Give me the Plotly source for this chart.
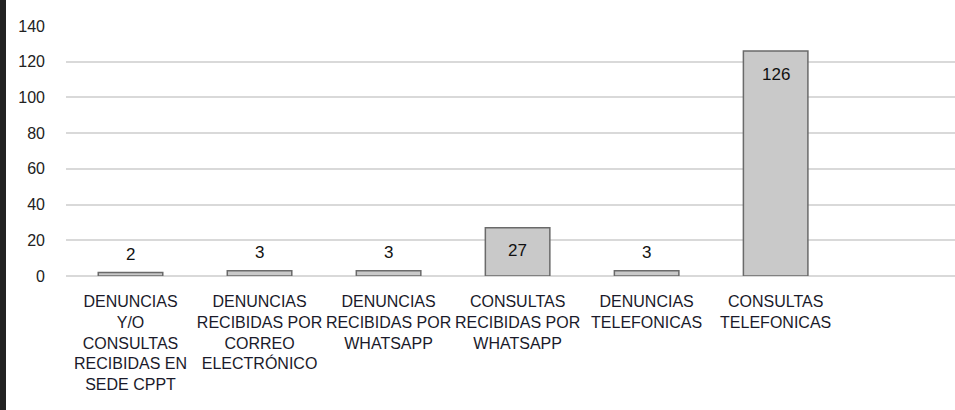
import plotly.graph_objects as go

categories = [
    "DENUNCIAS<br>Y/O<br>CONSULTAS<br>RECIBIDAS EN<br>SEDE CPPT",
    "DENUNCIAS<br>RECIBIDAS POR<br>CORREO<br>ELECTRÓNICO",
    "DENUNCIAS<br>RECIBIDAS POR<br>WHATSAPP",
    "CONSULTAS<br>RECIBIDAS POR<br>WHATSAPP",
    "DENUNCIAS<br>TELEFONICAS",
    "CONSULTAS<br>TELEFONICAS",
]
values = [2, 3, 3, 27, 3, 126]
y_ticks = [0, 20, 40, 60, 80, 100, 120, 140]

W, H = 955, 410
ML, MR, MT, MB = 66, 0, 26, 134
pw = W - ML - MR
ph = H - MT - MB

xs = list(range(len(categories)))

fig = go.Figure(go.Bar(
    x=xs,
    y=values,
    width=0.5,
    marker=dict(color="#c9c9c9", line=dict(color="#6a6a6a", width=1.5)),
    hoverinfo="x+y",
))

annotations = []
for x, v in zip(xs, values):
    inside = v >= 10
    annotations.append(dict(
        x=x, y=v, xref="x", yref="y",
        text=str(v), showarrow=False,
        yshift=-23 if inside else 18,
        font=dict(family="Liberation Sans", size=17, color="#111111"),
    ))

fig.update_layout(
    width=W, height=H,
    margin=dict(l=ML, r=MR, t=MT, b=MB),
    paper_bgcolor="white",
    plot_bgcolor="white",
    showlegend=False,
    font=dict(family="Liberation Sans", size=16, color="#1a1a2a"),
    xaxis=dict(
        tickmode="array",
        tickvals=xs,
        ticktext=categories,
        range=[-0.5, 6.39],
        showgrid=False,
        zeroline=False,
        showline=False,
        ticks="",
        tickangle=0,
        ticklabelstandoff=14,
        tickfont=dict(family="Liberation Sans", size=16, color="#1a1a2a"),
    ),
    yaxis=dict(
        range=[0, 140],
        tickvals=y_ticks,
        showgrid=True,
        gridcolor="#d9d9d9",
        gridwidth=1.5,
        zeroline=True,
        zerolinecolor="#d9d9d9",
        zerolinewidth=1.5,
        showline=False,
        ticks="",
        ticklabelstandoff=20,
        tickfont=dict(family="Liberation Sans", size=16, color="#222222"),
    ),
    annotations=annotations,
    shapes=[dict(
        type="rect", xref="paper", yref="paper",
        x0=-ML / pw, x1=-(ML - 6) / pw,
        y0=-MB / ph, y1=1 + MT / ph,
        fillcolor="#222222", line=dict(width=0), layer="above",
    )],
)

fig.write_html(
    "out.html",
    config={"displayModeBar": False},
    post_script="document.body.style.margin='0px';",
)
